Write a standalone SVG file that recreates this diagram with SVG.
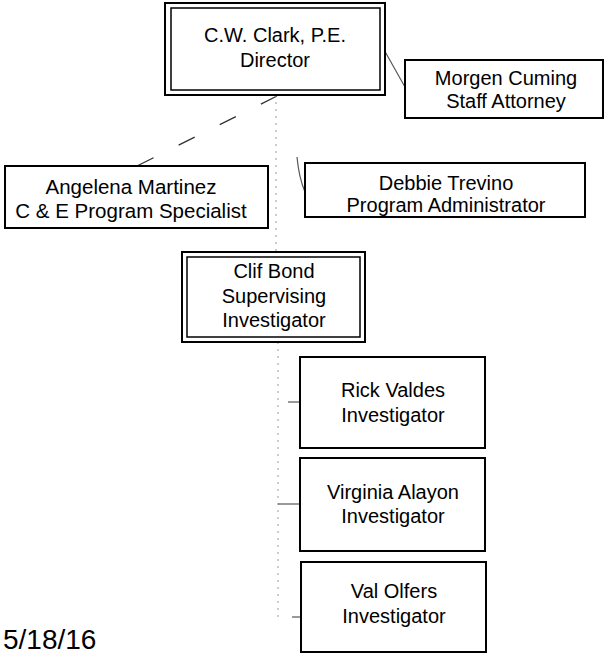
<svg xmlns="http://www.w3.org/2000/svg" width="606" height="655" viewBox="0 0 606 655">
<style>
  .box { fill: #fff; stroke: #000; stroke-width: 2; }
  .inner { fill: none; stroke: #000; stroke-width: 1.5; }
  .t { font-family: "Liberation Sans", Arial, sans-serif; font-size: 20px; fill: #000; text-anchor: middle; }
  .date { font-family: "Liberation Sans", Arial, sans-serif; font-size: 28px; fill: #000; }
  .c { fill: none; stroke: #555; stroke-width: 1.2; }
  .faint { fill: none; stroke: #999; stroke-width: 1; stroke-dasharray: 2 5; }
  .dash { fill: none; stroke: #333; stroke-width: 1.3; stroke-dasharray: 18 28; }
</style>
<rect width="606" height="655" fill="#fff"/>
<g id="connectors">
  <line class="c" x1="383" y1="48" x2="405" y2="87"/>
  <line class="dash" x1="277" y1="96" x2="137" y2="166"/>
  <line class="faint" x1="276" y1="95" x2="276" y2="252"/>
  <path class="c" d="M297,157 Q299,178 305,192"/>
  <line class="faint" x1="278" y1="342" x2="278" y2="617"/>
  <line class="c" x1="288" y1="402" x2="300" y2="402"/>
  <line class="c" x1="278" y1="504" x2="300" y2="504"/>
  <line class="c" x1="292" y1="617" x2="301" y2="617"/>
</g>
<g id="director">
  <rect class="box" x="165" y="3" width="220" height="92"/>
  <rect class="inner" x="171" y="8" width="209" height="82"/>
  <text class="t" x="275" y="42">C.W. Clark, P.E.</text>
  <text class="t" x="275" y="67">Director</text>
</g>
<g id="morgen">
  <rect class="box" x="405" y="60" width="198" height="58"/>
  <text class="t" x="506" y="85">Morgen Cuming</text>
  <text class="t" x="506" y="108">Staff Attorney</text>
</g>
<g id="angelena">
  <rect class="box" x="5" y="166" width="263" height="62"/>
  <text class="t" x="131" y="194" style="font-size:20.5px">Angelena Martinez</text>
  <text class="t" x="131" y="218" style="font-size:20.5px">C &amp; E Program Specialist</text>
</g>
<g id="debbie">
  <rect class="box" x="305" y="163" width="280" height="54"/>
  <text class="t" x="446" y="190">Debbie Trevino</text>
  <text class="t" x="446" y="212">Program Administrator</text>
</g>
<g id="clif">
  <rect class="box" x="182" y="252" width="183" height="90"/>
  <rect class="inner" x="187" y="257" width="173" height="80"/>
  <text class="t" x="274" y="278">Clif Bond</text>
  <text class="t" x="274" y="303">Supervising</text>
  <text class="t" x="274" y="327">Investigator</text>
</g>
<g id="rick">
  <rect class="box" x="300" y="357" width="185" height="91"/>
  <text class="t" x="393" y="397">Rick Valdes</text>
  <text class="t" x="393" y="422">Investigator</text>
</g>
<g id="virginia">
  <rect class="box" x="300" y="458" width="185" height="93"/>
  <text class="t" x="393" y="499">Virginia Alayon</text>
  <text class="t" x="393" y="523">Investigator</text>
</g>
<g id="val">
  <rect class="box" x="301" y="562" width="185" height="90"/>
  <text class="t" x="394" y="598">Val Olfers</text>
  <text class="t" x="394" y="623">Investigator</text>
</g>
<text class="date" x="3" y="649">5/18/16</text>
</svg>
